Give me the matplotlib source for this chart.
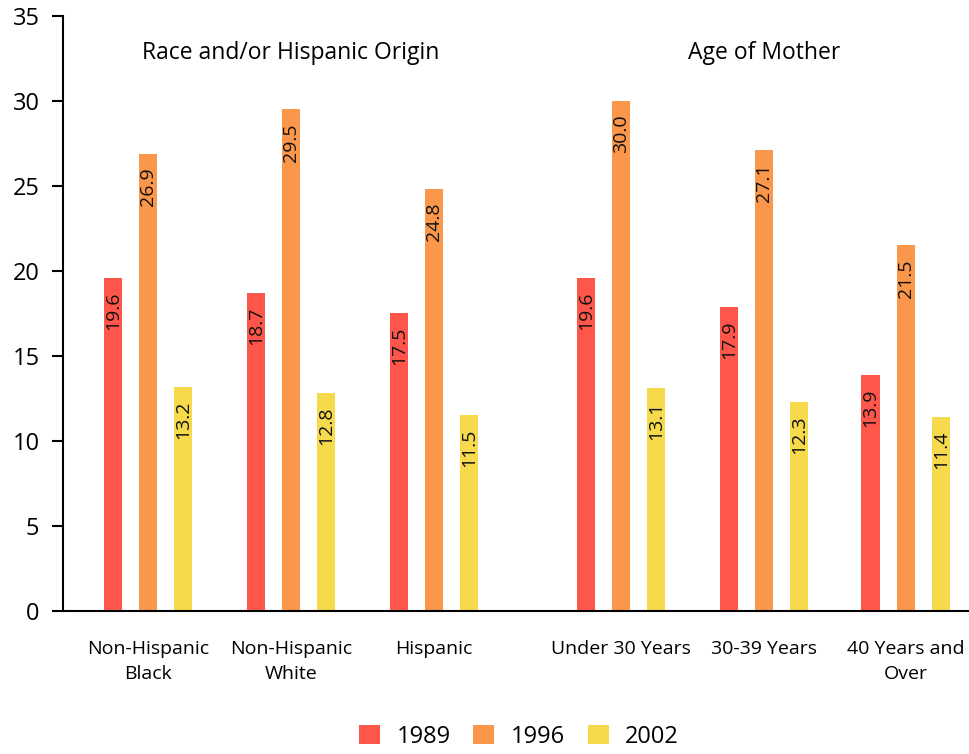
import numpy as np
import matplotlib.pyplot as plt

plt.rcParams['font.family'] = ['Open Sans', 'DejaVu Sans']

#%% data
categories = ["Non-Hispanic\nBlack", "Non-Hispanic\nWhite", "Hispanic",
              "Under 30 Years", "30-39 Years", "40 Years and\nOver"]
years = ["1989", "1996", "2002"]
v1989 = [19.6, 18.7, 17.5, 19.6, 17.9, 13.9]
v1996 = [26.9, 29.5, 24.8, 30.0, 27.1, 21.5]
v2002 = [13.2, 12.8, 11.5, 13.1, 12.3, 11.4]
groups = ["Race and/or Hispanic Origin", "Age of Mother"]

colors = ['#fe564a', '#fb974a', '#f6da4c']

#%% layout
centers = np.array([0, 1, 2, 3.31, 4.31, 5.3])
width = 0.128
offset = 0.246

fig = plt.figure(figsize=(9.7, 7.54), dpi=100)
ax = fig.add_axes([0.065, 0.1897, 0.935, 0.7891])

for k, vals in enumerate([v1989, v1996, v2002]):
    xs = centers + (k - 1) * offset
    ax.bar(xs, vals, width, color=colors[k], label=years[k])
    for x, v in zip(xs, vals):
        ax.text(x, v - 0.8, "%.1f" % v, rotation=90, ha='center', va='top',
                fontsize=14, color='#111111')

ax.set_ylim(0, 35)
ax.set_xlim(-0.594, 5.75)
ax.set_yticks(np.arange(0, 36, 5))
ax.tick_params(axis='y', labelsize=17, length=8, width=1.5, pad=9)
ax.set_xticks(centers)
ax.set_xticklabels(categories, fontsize=14, linespacing=1.5)
ax.tick_params(axis='x', length=0, pad=21)

for s in ['top', 'right']:
    ax.spines[s].set_visible(False)
ax.spines['left'].set_linewidth(1.5)
ax.spines['bottom'].set_linewidth(1.5)

ax.text(centers[1], 32.8, groups[0], ha='center', va='center', fontsize=16.5)
ax.text(centers[4], 32.8, groups[1], ha='center', va='center', fontsize=16.5)

fig.legend(loc='lower center', bbox_to_anchor=(0.535, -0.021), ncol=3, frameon=False,
           fontsize=17, handlelength=0.9, handleheight=0.9, columnspacing=0.95,
           handletextpad=0.7)

plt.savefig('out.png', dpi=100)
